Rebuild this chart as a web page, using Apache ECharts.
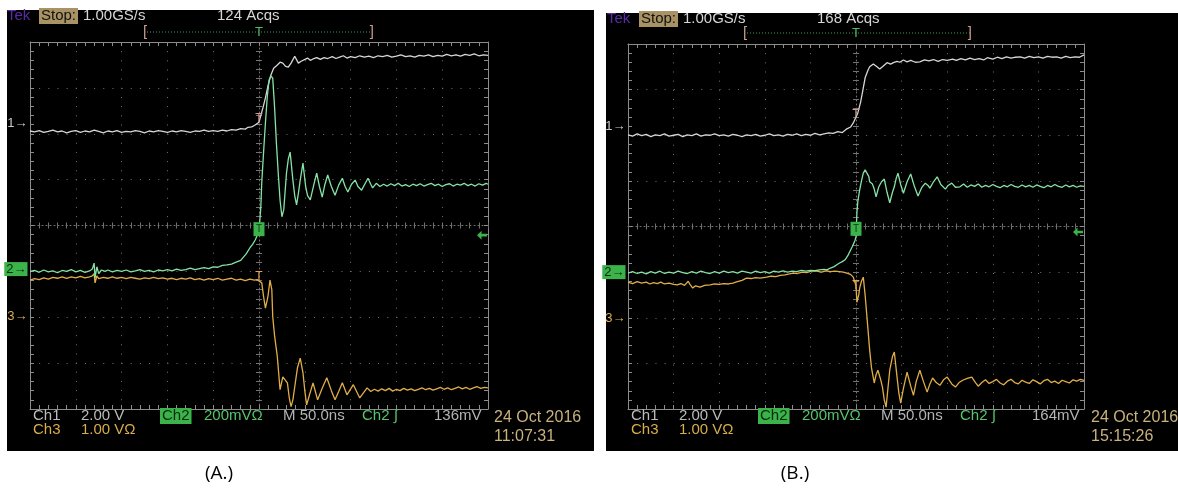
<!DOCTYPE html>
<html><head><meta charset="utf-8">
<script src="https://cdn.jsdelivr.net/npm/echarts@6/dist/echarts.min.js"></script>
<style>html,body{margin:0;padding:0;background:#fff}#c{width:1178px;height:488px}</style>
</head><body><div id="c"></div>
<script>
// ---------------- DATA (time in ns, amplitude in screen divisions) ----------------
const timeRange = [-250, 250];      // 50 ns/div, 10 div
const divRange = [-4, 4];           // 8 vertical div

// Panel (A.)
const aCh1 = [[-250,2.06],[-245,2.04],[-240,2.07],[-235,2.03],[-230,2.05],[-225,2.08],[-220,2.04],[-215,2.06],[-210,2.02],[-205,2.05],[-200,2.07],[-195,2.03],[-190,2.06],[-185,2.04],[-180,2.08],[-175,2.05],[-170,2.02],[-165,2.06],[-160,2.04],[-155,2.07],[-150,2.03],[-145,2.05],[-140,2.04],[-135,2.07],[-130,2.05],[-125,2.02],[-120,2.06],[-115,2.04],[-110,2.07],[-105,2.05],[-100,2.03],[-95,2.06],[-90,2.04],[-85,2.07],[-80,2.05],[-75,2.03],[-70,2.06],[-65,2.05],[-60,2.08],[-55,2.05],[-50,2.07],[-45,2.05],[-40,2.08],[-35,2.06],[-30,2.09],[-25,2.08],[-20,2.11],[-15,2.10],[-12,2.14],[-8,2.15],[-5,2.18],[-3,2.21],[0,2.25],[3,2.47],[5,2.62],[7,2.78],[10,3.06],[13,3.28],[16,3.43],[20,3.50],[23,3.56],[26,3.54],[29,3.47],[32,3.45],[35,3.54],[39,3.69],[43,3.54],[46,3.58],[48,3.61],[53,3.65],[56,3.60],[59,3.63],[63,3.66],[67,3.62],[71,3.66],[75,3.64],[80,3.68],[84,3.64],[88,3.67],[92,3.70],[96,3.65],[100,3.68],[105,3.66],[110,3.70],[115,3.67],[120,3.69],[125,3.66],[130,3.70],[135,3.68],[140,3.71],[145,3.67],[150,3.69],[155,3.72],[160,3.68],[165,3.70],[170,3.67],[175,3.71],[180,3.69],[185,3.72],[190,3.68],[195,3.71],[200,3.69],[205,3.73],[210,3.70],[215,3.72],[220,3.69],[225,3.73],[230,3.71],[235,3.74],[240,3.70],[245,3.72],[250,3.71]];
const aCh2 = [[-250,-1.00],[-245,-0.98],[-240,-1.02],[-235,-0.97],[-230,-1.01],[-225,-0.99],[-220,-1.03],[-215,-0.98],[-210,-1.00],[-205,-0.96],[-200,-1.01],[-195,-0.98],[-190,-1.02],[-185,-0.99],[-182,-0.95],[-180,-0.82],[-179,-1.14],[-177,-0.90],[-175,-1.05],[-172,-0.97],[-168,-1.00],[-165,-0.97],[-160,-1.01],[-155,-0.98],[-150,-1.00],[-145,-0.97],[-140,-1.01],[-135,-0.99],[-130,-0.96],[-125,-1.00],[-120,-0.98],[-115,-1.01],[-110,-0.97],[-105,-0.99],[-100,-0.96],[-95,-0.99],[-90,-0.95],[-85,-0.98],[-80,-0.96],[-75,-0.93],[-70,-0.96],[-65,-0.94],[-60,-0.92],[-55,-0.94],[-50,-0.90],[-45,-0.91],[-40,-0.87],[-35,-0.86],[-30,-0.84],[-25,-0.80],[-20,-0.76],[-17,-0.69],[-14,-0.62],[-10,-0.49],[-7,-0.41],[-4,-0.31],[-2,-0.22],[0,-0.14],[2,0.40],[3,0.93],[5,1.60],[7,2.23],[9,2.80],[11,3.17],[13,3.26],[15,3.21],[17,2.58],[19,1.80],[21,1.14],[23,0.55],[25,0.19],[27,0.34],[30,1.14],[32,1.45],[34,1.60],[37,0.99],[39,0.65],[41,0.45],[43,0.70],[45,0.99],[48,1.36],[51,0.84],[53,0.65],[56,0.56],[60,0.90],[63,1.14],[66,0.85],[69,0.62],[72,0.90],[75,1.10],[79,0.85],[83,0.66],[87,0.88],[91,1.03],[94,0.85],[97,0.73],[101,0.90],[105,0.99],[108,0.85],[112,0.77],[116,0.92],[119,1.03],[122,0.90],[124,0.82],[128,0.92],[132,0.85],[136,0.90],[140,0.86],[144,0.91],[148,0.87],[152,0.92],[156,0.86],[160,0.89],[164,0.85],[168,0.90],[172,0.87],[176,0.91],[180,0.86],[184,0.89],[188,0.92],[192,0.87],[196,0.90],[200,0.85],[204,0.89],[208,0.91],[212,0.86],[216,0.90],[220,0.88],[224,0.92],[228,0.87],[232,0.90],[236,0.86],[240,0.91],[244,0.88],[248,0.92],[250,0.90]];
const aCh3 = [[-250,-1.19],[-245,-1.16],[-240,-1.18],[-235,-1.14],[-230,-1.17],[-225,-1.13],[-220,-1.15],[-215,-1.12],[-210,-1.15],[-205,-1.12],[-200,-1.14],[-195,-1.11],[-190,-1.14],[-185,-1.12],[-182,-1.10],[-180,-1.05],[-179,-1.25],[-177,-1.10],[-175,-1.16],[-170,-1.13],[-165,-1.15],[-160,-1.12],[-155,-1.15],[-150,-1.13],[-145,-1.16],[-140,-1.13],[-135,-1.15],[-130,-1.17],[-125,-1.14],[-120,-1.16],[-115,-1.13],[-110,-1.16],[-105,-1.14],[-100,-1.17],[-95,-1.15],[-90,-1.18],[-85,-1.15],[-80,-1.17],[-75,-1.14],[-70,-1.18],[-65,-1.16],[-60,-1.19],[-55,-1.16],[-50,-1.18],[-45,-1.15],[-40,-1.19],[-35,-1.17],[-30,-1.15],[-25,-1.19],[-20,-1.17],[-15,-1.20],[-10,-1.17],[-5,-1.19],[-2,-1.18],[0,-1.19],[3,-1.25],[5,-1.55],[7,-1.80],[9,-1.62],[10,-1.51],[12,-1.19],[13,-1.22],[14,-1.40],[15,-1.99],[17,-2.40],[20,-2.86],[23,-3.58],[26,-3.30],[28,-3.28],[31,-3.43],[33,-3.75],[35,-3.95],[37,-3.80],[39,-3.52],[42,-3.10],[45,-2.89],[48,-3.21],[50,-3.60],[52,-3.91],[55,-3.70],[59,-3.43],[64,-3.80],[69,-3.55],[74,-3.32],[79,-3.60],[83,-3.80],[87,-3.62],[91,-3.43],[96,-3.69],[103,-3.47],[110,-3.76],[118,-3.54],[122,-3.62],[126,-3.57],[130,-3.61],[134,-3.56],[138,-3.60],[142,-3.55],[146,-3.61],[150,-3.57],[154,-3.60],[158,-3.55],[162,-3.59],[166,-3.56],[170,-3.60],[174,-3.57],[178,-3.54],[182,-3.58],[186,-3.55],[190,-3.59],[194,-3.56],[198,-3.53],[202,-3.57],[206,-3.54],[210,-3.58],[214,-3.55],[218,-3.52],[222,-3.56],[226,-3.53],[230,-3.57],[234,-3.54],[238,-3.51],[242,-3.55],[246,-3.53],[250,-3.54]];

// Panel (B.)
const bCh1 = [[-250,2.01],[-245,1.98],[-240,2.03],[-235,1.99],[-230,2.02],[-225,1.97],[-220,2.01],[-215,1.99],[-210,2.03],[-205,1.98],[-200,2.00],[-195,2.02],[-190,1.97],[-185,2.01],[-180,1.99],[-175,2.03],[-170,1.98],[-165,2.01],[-160,2.00],[-155,2.03],[-150,1.99],[-145,2.01],[-140,1.98],[-135,2.02],[-130,2.00],[-125,1.97],[-120,2.01],[-115,1.99],[-110,2.02],[-105,1.98],[-100,2.00],[-95,2.03],[-90,1.99],[-85,2.01],[-80,1.98],[-75,2.02],[-70,2.00],[-65,2.03],[-60,1.99],[-55,2.02],[-50,2.00],[-45,2.04],[-40,2.01],[-35,2.03],[-30,2.05],[-25,2.04],[-20,2.08],[-15,2.06],[-10,2.14],[-6,2.18],[-3,2.27],[0,2.40],[2,2.49],[5,2.72],[7,2.93],[10,3.26],[13,3.42],[15,3.50],[19,3.56],[23,3.50],[26,3.45],[29,3.50],[31,3.54],[34,3.59],[38,3.56],[41,3.59],[45,3.62],[48,3.60],[52,3.65],[56,3.61],[60,3.64],[65,3.60],[70,3.61],[75,3.65],[80,3.63],[85,3.66],[90,3.62],[95,3.66],[100,3.64],[106,3.67],[110,3.64],[115,3.68],[120,3.65],[125,3.69],[130,3.66],[135,3.68],[140,3.65],[144,3.70],[150,3.67],[155,3.71],[160,3.68],[165,3.72],[170,3.69],[175,3.71],[180,3.72],[185,3.69],[190,3.73],[195,3.70],[200,3.72],[205,3.69],[210,3.73],[215,3.71],[220,3.72],[225,3.69],[230,3.73],[235,3.70],[240,3.72],[245,3.71],[250,3.76]];
const bCh2 = [[-250,-1.02],[-245,-0.99],[-240,-1.03],[-235,-1.00],[-230,-1.04],[-225,-0.99],[-220,-1.02],[-215,-0.98],[-210,-1.03],[-205,-1.00],[-200,-1.02],[-195,-0.98],[-190,-1.01],[-185,-1.03],[-180,-0.99],[-175,-1.02],[-170,-0.98],[-165,-1.01],[-160,-1.03],[-155,-0.99],[-150,-1.02],[-145,-0.98],[-140,-1.01],[-135,-0.99],[-130,-1.02],[-125,-0.98],[-120,-1.00],[-115,-1.02],[-110,-0.98],[-105,-1.01],[-100,-0.99],[-95,-1.02],[-90,-0.98],[-85,-1.00],[-80,-0.97],[-75,-1.00],[-70,-0.98],[-65,-0.99],[-60,-0.96],[-55,-0.98],[-50,-0.96],[-45,-0.97],[-40,-0.95],[-35,-0.94],[-32,-0.95],[-28,-0.91],[-24,-0.88],[-21,-0.84],[-18,-0.80],[-15,-0.77],[-12,-0.73],[-9,-0.64],[-7,-0.56],[-4,-0.44],[-1,-0.30],[0,-0.23],[1,0.30],[2,0.55],[4,0.80],[6,1.00],[8,1.17],[10,1.24],[12,1.28],[14,1.10],[15,0.98],[17,0.95],[18,0.93],[19,0.95],[20,0.82],[22,0.65],[24,0.80],[25,0.87],[28,0.98],[31,1.04],[34,0.75],[37,0.52],[40,0.75],[42,0.87],[44,1.05],[46,1.17],[49,0.92],[52,0.73],[56,0.98],[60,1.15],[64,0.88],[68,0.67],[72,0.85],[76,0.95],[79,0.90],[81,0.84],[85,0.98],[89,1.09],[93,0.92],[98,0.82],[101,0.90],[105,0.95],[109,0.86],[114,0.87],[118,0.93],[122,0.86],[126,0.91],[130,0.88],[134,0.93],[138,0.86],[142,0.90],[146,0.87],[150,0.92],[154,0.88],[158,0.85],[162,0.90],[166,0.87],[170,0.92],[174,0.88],[178,0.86],[182,0.91],[186,0.87],[190,0.90],[194,0.86],[198,0.91],[202,0.88],[206,0.85],[210,0.90],[214,0.87],[218,0.92],[222,0.88],[226,0.86],[230,0.91],[234,0.87],[238,0.90],[242,0.86],[246,0.89],[250,0.88]];
const bCh3 = [[-250,-1.22],[-245,-1.25],[-240,-1.21],[-235,-1.24],[-230,-1.22],[-226,-1.26],[-222,-1.23],[-218,-1.25],[-214,-1.22],[-210,-1.26],[-205,-1.24],[-200,-1.27],[-196,-1.28],[-192,-1.25],[-188,-1.29],[-184,-1.20],[-182,-1.27],[-179,-1.35],[-176,-1.30],[-171,-1.33],[-166,-1.29],[-160,-1.28],[-155,-1.26],[-150,-1.27],[-145,-1.25],[-140,-1.26],[-135,-1.24],[-130,-1.21],[-125,-1.18],[-120,-1.13],[-115,-1.14],[-110,-1.12],[-105,-1.13],[-98,-1.11],[-93,-1.09],[-88,-1.10],[-83,-1.07],[-78,-1.06],[-73,-1.04],[-69,-1.02],[-64,-1.03],[-59,-1.00],[-54,-1.01],[-49,-0.98],[-43,-0.98],[-38,-1.00],[-33,-0.97],[-28,-0.99],[-23,-0.98],[-18,-0.99],[-14,-1.00],[-10,-1.02],[-6,-1.05],[-3,-1.11],[0,-1.30],[1,-1.66],[3,-1.50],[4,-1.35],[6,-1.20],[8,-1.11],[10,-1.50],[12,-1.98],[15,-2.71],[17,-3.10],[20,-3.43],[22,-3.25],[24,-3.15],[27,-3.35],[29,-3.52],[31,-3.80],[33,-3.96],[35,-3.55],[37,-3.15],[40,-2.85],[42,-2.75],[45,-3.30],[47,-3.65],[49,-3.87],[52,-3.55],[56,-3.19],[60,-3.50],[63,-3.70],[66,-3.40],[70,-3.15],[74,-3.40],[78,-3.63],[81,-3.45],[84,-3.32],[88,-3.42],[92,-3.48],[96,-3.36],[100,-3.30],[105,-3.45],[109,-3.52],[113,-3.42],[117,-3.37],[122,-3.33],[127,-3.30],[131,-3.42],[134,-3.50],[138,-3.42],[142,-3.36],[146,-3.44],[150,-3.40],[154,-3.35],[158,-3.43],[162,-3.47],[166,-3.39],[170,-3.35],[174,-3.42],[178,-3.45],[182,-3.37],[186,-3.41],[190,-3.44],[194,-3.36],[198,-3.40],[202,-3.45],[206,-3.38],[210,-3.35],[214,-3.42],[218,-3.39],[222,-3.44],[226,-3.37],[230,-3.40],[234,-3.43],[238,-3.36],[242,-3.39],[246,-3.35],[250,-3.37]];

// channel ground markers (div), trigger markers (div) : [ch1, ch2, ch3]
const groundA = [2.23, -0.95, -1.99];
const groundB = [2.20, -1.00, -2.01];
const trigMarkA = [2.32, -0.08, -1.12];
const trigMarkB = [2.45, -0.05, -1.30];
const trigLevel = [-0.21, -0.12];   // A, B

// readout texts
const headerA = ['Tek', 'Stop:', '1.00GS/s', '124 Acqs'];
const headerB = ['Tek', 'Stop:', '1.00GS/s', '168 Acqs'];
const footA = ['Ch1', '2.00 V', 'Ch2', '200mV\u03A9', 'M 50.0ns', 'Ch2 \u222B', '136mV', '24 Oct 2016', 'Ch3', '1.00 V\u03A9', '11:07:31'];
const footB = ['Ch1', '2.00 V', 'Ch2', '200mV\u03A9', 'M 50.0ns', 'Ch2 \u222B', '164mV', '24 Oct 2016', 'Ch3', '1.00 V\u03A9', '15:15:26'];
const captions = ['(A.)', '(B.)'];

// ---------------- STYLE / LAYOUT ----------------
const C1 = '#d6d6d6', C2 = '#86e3a6', C3 = '#e0ad48';
const GRAT = '#8c8c8c', DOT = '#727272';
const FONT = '"Liberation Sans", Arial, sans-serif';
const grids = [
  {left: 30, top: 42, width: 458, height: 367},
  {left: 628, top: 44, width: 456, height: 365}
];

const xAxes = [], yAxes = [];
function tickSet(inside, len, color) {
  return {
    axisTick: {show: true, inside: inside, length: len, lineStyle: {color: color, width: 1}},
    minorTick: {show: true, splitNumber: 5, length: len, lineStyle: {color: color, width: 1}}
  };
}
grids.forEach((g, gi) => {
  const xb = gi * 4, yb = gi * 4;
  const cx = {gridIndex: gi, type: 'value', min: timeRange[0], max: timeRange[1], interval: 50, axisLabel: {show: false}, splitLine: {show: false}};
  const cy = {gridIndex: gi, type: 'value', min: divRange[0], max: divRange[1], interval: 1, axisLabel: {show: false}, splitLine: {show: false}};
  xAxes.push(Object.assign({}, cx, {position: 'bottom', axisLine: {show: true, onZero: false, lineStyle: {color: GRAT, width: 1}},
    splitLine: {show: true, lineStyle: {color: DOT, width: 1, type: [1, 8.16]}}}, tickSet(true, 4, GRAT)));
  xAxes.push(Object.assign({}, cx, {position: 'top', axisLine: {show: true, onZero: false, lineStyle: {color: GRAT, width: 1}}}, tickSet(true, 4, GRAT)));
  xAxes.push(Object.assign({}, cx, {position: 'bottom', axisLine: {show: true, onZero: true, onZeroAxisIndex: yb, lineStyle: {color: DOT, width: 1, type: [1, 3]}}}, tickSet(false, 3, DOT)));
  xAxes.push(Object.assign({}, cx, {position: 'bottom', axisLine: {show: false, onZero: true, onZeroAxisIndex: yb}}, tickSet(true, 3, DOT)));
  yAxes.push(Object.assign({}, cy, {position: 'left', axisLine: {show: true, onZero: false, lineStyle: {color: GRAT, width: 1}},
    splitLine: {show: true, lineStyle: {color: DOT, width: 1, type: [1, 8.16]}}}, tickSet(true, 4, GRAT)));
  yAxes.push(Object.assign({}, cy, {position: 'right', axisLine: {show: true, onZero: false, lineStyle: {color: GRAT, width: 1}}}, tickSet(true, 4, GRAT)));
  yAxes.push(Object.assign({}, cy, {position: 'left', axisLine: {show: true, onZero: true, onZeroAxisIndex: xb, lineStyle: {color: DOT, width: 1, type: [1, 3]}}}, tickSet(false, 3, DOT)));
  yAxes.push(Object.assign({}, cy, {position: 'left', axisLine: {show: false, onZero: true, onZeroAxisIndex: xb}}, tickSet(true, 3, DOT)));
});

function lbl(text, color, extra) {
  return Object.assign({show: true, formatter: text, color: color, fontSize: 13, fontFamily: FONT, textBorderWidth: 0}, extra || {});
}
function groundMark(level, text, color, extra) {
  return {coord: [timeRange[0], level], symbol: 'rect', symbolSize: 1, itemStyle: {color: 'rgba(0,0,0,0)'},
    label: lbl(text, color, Object.assign({position: 'left', distance: 2}, extra || {}))};
}
function tMark(level, color) {
  return {coord: [0, level], symbol: 'rect', symbolSize: 1, itemStyle: {color: 'rgba(0,0,0,0)'},
    label: lbl('T', color, {position: 'inside', fontSize: 12})};
}
function trace(data, gi, color, marks) {
  return {type: 'line', xAxisIndex: gi * 4, yAxisIndex: gi * 4, data: data, symbol: 'none', showSymbol: false,
    lineStyle: {color: color, width: 1.3}, itemStyle: {color: color}, animation: false, silent: true, z: 3,
    markPoint: {silent: true, animation: false, data: marks}};
}
const ARROW = 'path://M0,5 L5,0 L5,3.5 L11,3.5 L11,6.5 L5,6.5 L5,10 Z';
function chSeries(gi, d1, d2, d3, ground, trig, tl) {
  return [
    trace(d1, gi, C1, [groundMark(ground[0], '1\u2192', '#c8c8c8'), tMark(trig[0], '#d49a92')]),
    trace(d3, gi, C3, [groundMark(ground[2], '3\u2192', '#dcae50'), tMark(trig[2], '#e8a24a')]),
    trace(d2, gi, C2, [
      groundMark(ground[1], '2\u2192', '#062a0c', {backgroundColor: '#3cb34a', padding: [1, 1, 0, 2]}),
      {coord: [0, trig[1]], symbol: 'rect', symbolSize: [11, 14], itemStyle: {color: '#3cb34a'},
        label: lbl('T', '#0b3a14', {position: 'inside', fontSize: 10})},
      {coord: [timeRange[1], tl], symbol: ARROW, symbolSize: [10, 9], symbolOffset: [-6, 0], itemStyle: {color: '#3cb34a'}}
    ])
  ];
}
const series = [].concat(
  chSeries(0, aCh1, aCh2, aCh3, groundA, trigMarkA, trigLevel[0]),
  chSeries(1, bCh1, bCh2, bCh3, groundB, trigMarkB, trigLevel[1])
);

// ---------------- GRAPHIC READOUTS ----------------
function T(x, y, text, fill, size, extra) {
  return {type: 'text', x: x, y: y, z: 100, silent: true,
    style: Object.assign({text: text, fill: fill, font: size + 'px ' + FONT, align: 'left', verticalAlign: 'middle'}, extra || {})};
}
function panel(px, py, w, h) {
  return {type: 'rect', z: -10, silent: true, shape: {x: px, y: py, width: w, height: h}, style: {fill: '#000'}};
}
function header(h, x0, y, bx0, bx1, tx, by) {
  return [
    T(x0, y, h[0], '#5b2aa6', 15),
    T(x0 + 32, y, h[1], '#111', 15, {backgroundColor: '#a99263', padding: [1, 2, 0, 2]}),
    T(x0 + 76, y, h[2], '#d6d6d6', 15),
    T(x0 + 210, y, h[3], '#d6d6d6', 15),
    {type: 'line', z: 100, silent: true, shape: {x1: bx0 + 4, y1: by, x2: bx1 - 2, y2: by}, style: {stroke: '#3f9a52', lineWidth: 1, lineDash: [1, 2]}},
    T(bx0, by, '[', '#c79a8a', 15),
    T(bx1, by, ']', '#c79a8a', 15, {align: 'right'}),
    T(tx, by, 'T', '#4fbf64', 13, {align: 'center'})
  ];
}
function footer(f, gx, r1, r2, dateX, dateY, timeY) {
  return [
    T(gx + 3, r1, f[0], '#bcbcbc', 15),
    T(gx + 51, r1, f[1], '#bcbcbc', 15),
    T(gx + 130, r1, f[2], '#062a0c', 15, {backgroundColor: '#3cb34a', padding: [1, 2, 0, 2]}),
    T(gx + 174, r1, f[3], '#56c46a', 15),
    T(gx + 253, r1, f[4], '#b4b4b4', 15),
    T(gx + 332, r1, f[5], '#56c46a', 15),
    T(gx + 404, r1, f[6], '#b4b4b4', 15),
    T(dateX, dateY, f[7], '#c9b27c', 16),
    T(gx + 3, r2, f[8], '#d8ad4c', 15),
    T(gx + 51, r2, f[9], '#d8ad4c', 15),
    T(dateX, timeY, f[10], '#c9b27c', 16)
  ];
}
const elements = [].concat(
  [panel(7, 10, 587, 441), panel(606, 13, 572, 438)],
  header(headerA, 7, 16, 143, 374, 259, 32),
  header(headerB, 607, 19, 743, 972, 856, 33),
  footer(footA, 30, 416, 430, 494, 418, 437),
  footer(footB, 628, 416, 430, 1091, 418, 437),
  [T(219, 474, captions[0], '#000', 19, {align: 'center', font: '19px "Open Sans", "Liberation Sans", sans-serif'}),
   T(795, 474, captions[1], '#000', 19, {align: 'center', font: '19px "Open Sans", "Liberation Sans", sans-serif'})]
);

const chart = echarts.init(document.getElementById('c'), null, {renderer: 'canvas', width: 1178, height: 488});
chart.setOption({
  backgroundColor: '#ffffff',
  animation: false,
  grid: grids.map(g => Object.assign({containLabel: false, outerBoundsMode: 'none', show: false}, g)),
  xAxis: xAxes,
  yAxis: yAxes,
  series: series,
  graphic: {elements: elements}
});
</script>
</body></html>
